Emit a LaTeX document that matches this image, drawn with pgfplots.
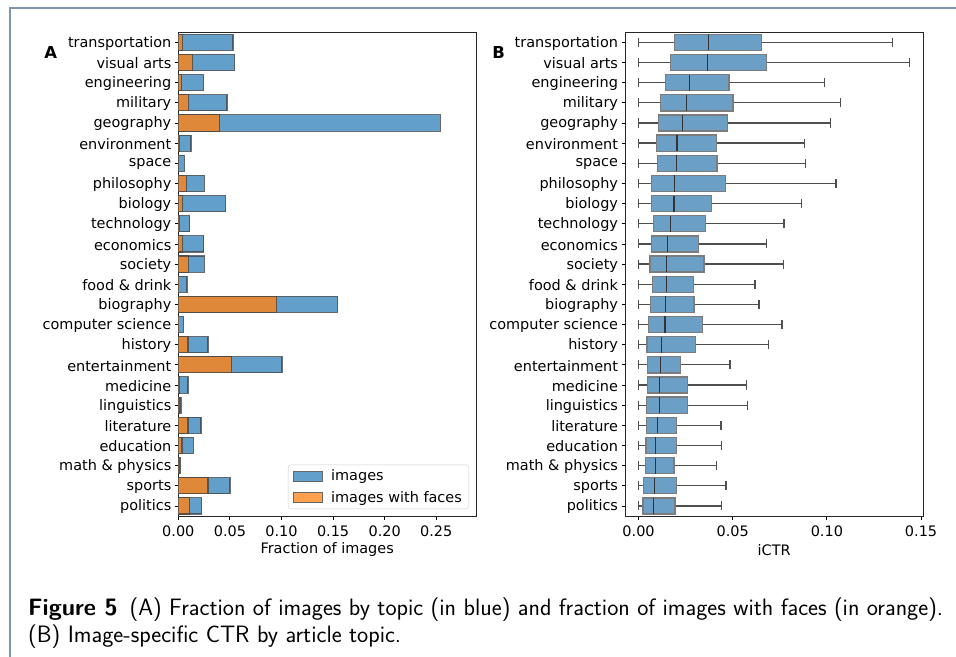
\documentclass[border=0pt]{standalone}
\usepackage{fontspec}
\setmainfont{DejaVu Sans}
\usepackage{pgfplots}
\pgfplotsset{compat=1.18}
\usepgfplotslibrary{statistics}
\definecolor{tabblue}{HTML}{62A0CB}
\definecolor{faceor}{HTML}{E0883A}
\definecolor{legor}{HTML}{FFA04F}
\definecolor{boxblue}{HTML}{6B9FC6}
\definecolor{boxedge}{HTML}{7C7C7C}
\definecolor{whiskc}{HTML}{4F4F4F}
\definecolor{framecol}{HTML}{7F93AA}
\newcommand{\tfont}{\fontsize{14.5}{17}\selectfont}
\pgfplotsset{
  myaxis/.style={
    scale only axis, height=483.7bp,
    ymin=-0.5, ymax=23.5, y dir=reverse,
    ytick={0,...,23},
    yticklabels={transportation, visual arts, engineering, military, geography, environment, space, philosophy, biology, technology, economics, society, food \& drink, biography, computer science, history, entertainment, medicine, linguistics, literature, education, math \& physics, sports, politics},
    tick align=outside, tick pos=left, major tick length=3.5bp,
    tick style={black, line width=0.8bp},
    axis line style={black!85, line width=1bp},
    tick label style={font=\tfont},
    yticklabel style={yshift=-1bp},
    xticklabel style={yshift=-2.5bp},
    label style={font=\tfont},
    /pgf/number format/assume math mode=true,
    xticklabel style={/pgf/number format/.cd, fixed, fixed zerofill, precision=2},
    xlabel style={at={(axis description cs:0.5,0)}, anchor=center, yshift=-34bp},
  },
  barb/.style={xbar, bar width=0.8, bar shift=0pt, draw=black!75, draw opacity=0.75, line width=1.1bp, forget plot},
  bx/.style={draw=boxedge, fill=boxblue, line width=1.3bp,
    boxplot/every whisker/.style={draw=whiskc, line width=1.3bp},
    boxplot/every median/.style={draw=black!80, line width=1.2bp}},
}
\begin{document}
\begin{tikzpicture}
\path[use as bounding box] (0bp,0bp) rectangle (956bp,657bp);
\draw[framecol, line width=1.3bp] (10bp,0bp) -- (10bp,649bp) -- (956bp,649bp);

\begin{axis}[myaxis, at={(178.3bp,141bp)}, anchor=south west, width=297.7bp,
  xmin=0, xmax=0.2885, xtick={0,0.05,0.1,0.15,0.2,0.25},
  xlabel={Fraction of images},
  legend image code/.code={\draw[sharp corners, #1] (0bp,-5bp) rectangle (29bp,5bp);},
  legend style={at={(1,0)}, anchor=south east, xshift=-7bp, yshift=7bp, draw=black!20, rounded corners=3bp, font=\tfont, row sep=5bp, inner xsep=5bp, inner ysep=3bp, /tikz/every odd column/.append style={column sep=6bp}},
  legend cell align=left]
\addplot[barb, fill=tabblue] coordinates {
(0.0530,0) (0.0546,1) (0.0246,2) (0.0472,3) (0.2540,4) (0.0123,5) (0.0059,6) (0.0252,7)
(0.0459,8) (0.0111,9) (0.0248,10) (0.0252,11) (0.0084,12) (0.1545,13) (0.0052,14) (0.0288,15)
(0.1005,16) (0.0094,17) (0.0026,18) (0.0220,19) (0.0146,20) (0.0023,21) (0.0501,22) (0.0227,23)};
\addplot[barb, fill=faceor] coordinates {
(0.0043,0) (0.0140,1) (0.0030,2) (0.0098,3) (0.0397,4) (0.0008,5) (0.0004,6) (0.0079,7)
(0.0039,8) (0.0013,9) (0.0039,10) (0.0095,11) (0.0005,12) (0.0953,13) (0.0005,14) (0.0094,15)
(0.0514,16) (0.0015,17) (0.0010,18) (0.0094,19) (0.0036,20) (0.0010,21) (0.0288,22) (0.0107,23)};
\addlegendimage{fill=tabblue, draw=black!60, line width=1.1bp}
\addlegendentry{images}
\addlegendimage{fill=legor, draw=black!60, line width=1.1bp}
\addlegendentry{images with faces}
\end{axis}

\begin{axis}[myaxis, at={(625bp,141bp)}, anchor=south west, width=298.3bp,
  xmin=-0.0072, xmax=0.1512, xtick={0,0.05,0.1,0.15},
  xlabel={iCTR},
  boxplot/draw direction=x, boxplot/box extend=0.8, boxplot/whisker extend=0.45]
\addplot[bx, boxplot prepared={draw position=0, lower whisker=0, lower quartile=0.0190, median=0.0370, upper quartile=0.0653, upper whisker=0.1347}] coordinates {};
\addplot[bx, boxplot prepared={draw position=1, lower whisker=0, lower quartile=0.0170, median=0.0368, upper quartile=0.0678, upper whisker=0.1439}] coordinates {};
\addplot[bx, boxplot prepared={draw position=2, lower whisker=0, lower quartile=0.0142, median=0.0269, upper quartile=0.0481, upper whisker=0.0988}] coordinates {};
\addplot[bx, boxplot prepared={draw position=3, lower whisker=0, lower quartile=0.0117, median=0.0253, upper quartile=0.0501, upper whisker=0.1073}] coordinates {};
\addplot[bx, boxplot prepared={draw position=4, lower whisker=0, lower quartile=0.0105, median=0.0235, upper quartile=0.0473, upper whisker=0.1020}] coordinates {};
\addplot[bx, boxplot prepared={draw position=5, lower whisker=0, lower quartile=0.0094, median=0.0204, upper quartile=0.0413, upper whisker=0.0880}] coordinates {};
\addplot[bx, boxplot prepared={draw position=6, lower whisker=0, lower quartile=0.0101, median=0.0200, upper quartile=0.0416, upper whisker=0.0887}] coordinates {};
\addplot[bx, boxplot prepared={draw position=7, lower whisker=0, lower quartile=0.0069, median=0.0190, upper quartile=0.0462, upper whisker=0.1048}] coordinates {};
\addplot[bx, boxplot prepared={draw position=8, lower whisker=0, lower quartile=0.0069, median=0.0188, upper quartile=0.0389, upper whisker=0.0864}] coordinates {};
\addplot[bx, boxplot prepared={draw position=9, lower whisker=0, lower quartile=0.0078, median=0.0168, upper quartile=0.0357, upper whisker=0.0772}] coordinates {};
\addplot[bx, boxplot prepared={draw position=10, lower whisker=0, lower quartile=0.0067, median=0.0152, upper quartile=0.0317, upper whisker=0.0681}] coordinates {};
\addplot[bx, boxplot prepared={draw position=11, lower whisker=0, lower quartile=0.0060, median=0.0150, upper quartile=0.0347, upper whisker=0.0768}] coordinates {};
\addplot[bx, boxplot prepared={draw position=12, lower whisker=0, lower quartile=0.0074, median=0.0147, upper quartile=0.0292, upper whisker=0.0618}] coordinates {};
\addplot[bx, boxplot prepared={draw position=13, lower whisker=0, lower quartile=0.0064, median=0.0143, upper quartile=0.0294, upper whisker=0.0639}] coordinates {};
\addplot[bx, boxplot prepared={draw position=14, lower whisker=0, lower quartile=0.0053, median=0.0140, upper quartile=0.0338, upper whisker=0.0761}] coordinates {};
\addplot[bx, boxplot prepared={draw position=15, lower whisker=0, lower quartile=0.0044, median=0.0120, upper quartile=0.0303, upper whisker=0.0690}] coordinates {};
\addplot[bx, boxplot prepared={draw position=16, lower whisker=0, lower quartile=0.0046, median=0.0115, upper quartile=0.0221, upper whisker=0.0485}] coordinates {};
\addplot[bx, boxplot prepared={draw position=17, lower whisker=0, lower quartile=0.0046, median=0.0113, upper quartile=0.0260, upper whisker=0.0574}] coordinates {};
\addplot[bx, boxplot prepared={draw position=18, lower whisker=0, lower quartile=0.0041, median=0.0112, upper quartile=0.0258, upper whisker=0.0577}] coordinates {};
\addplot[bx, boxplot prepared={draw position=19, lower whisker=0, lower quartile=0.0042, median=0.0099, upper quartile=0.0202, upper whisker=0.0437}] coordinates {};
\addplot[bx, boxplot prepared={draw position=20, lower whisker=0, lower quartile=0.0039, median=0.0092, upper quartile=0.0202, upper whisker=0.0442}] coordinates {};
\addplot[bx, boxplot prepared={draw position=21, lower whisker=0, lower quartile=0.0035, median=0.0089, upper quartile=0.0188, upper whisker=0.0413}] coordinates {};
\addplot[bx, boxplot prepared={draw position=22, lower whisker=0, lower quartile=0.0025, median=0.0083, upper quartile=0.0202, upper whisker=0.0464}] coordinates {};
\addplot[bx, boxplot prepared={draw position=23, lower whisker=0, lower quartile=0.0023, median=0.0081, upper quartile=0.0193, upper whisker=0.0442}] coordinates {};
\end{axis}

\node[font=\fontsize{16.5}{19}\selectfont\bfseries] at (50.7bp,604bp) {A};
\node[font=\fontsize{16.5}{19}\selectfont\bfseries] at (498.7bp,604.5bp) {B};

\node[anchor=base west, inner sep=0pt, font=\sffamily\fontsize{23.8}{27}\selectfont] at (28bp,41bp) {\textbf{Figure 5}\enspace (A) Fraction of images by topic (in blue) and fraction of images with faces (in orange).};
\node[anchor=base west, inner sep=0pt, font=\sffamily\fontsize{23.8}{27}\selectfont] at (28bp,15bp) {(B) Image-specific CTR by article topic.};
\end{tikzpicture}
\end{document}
